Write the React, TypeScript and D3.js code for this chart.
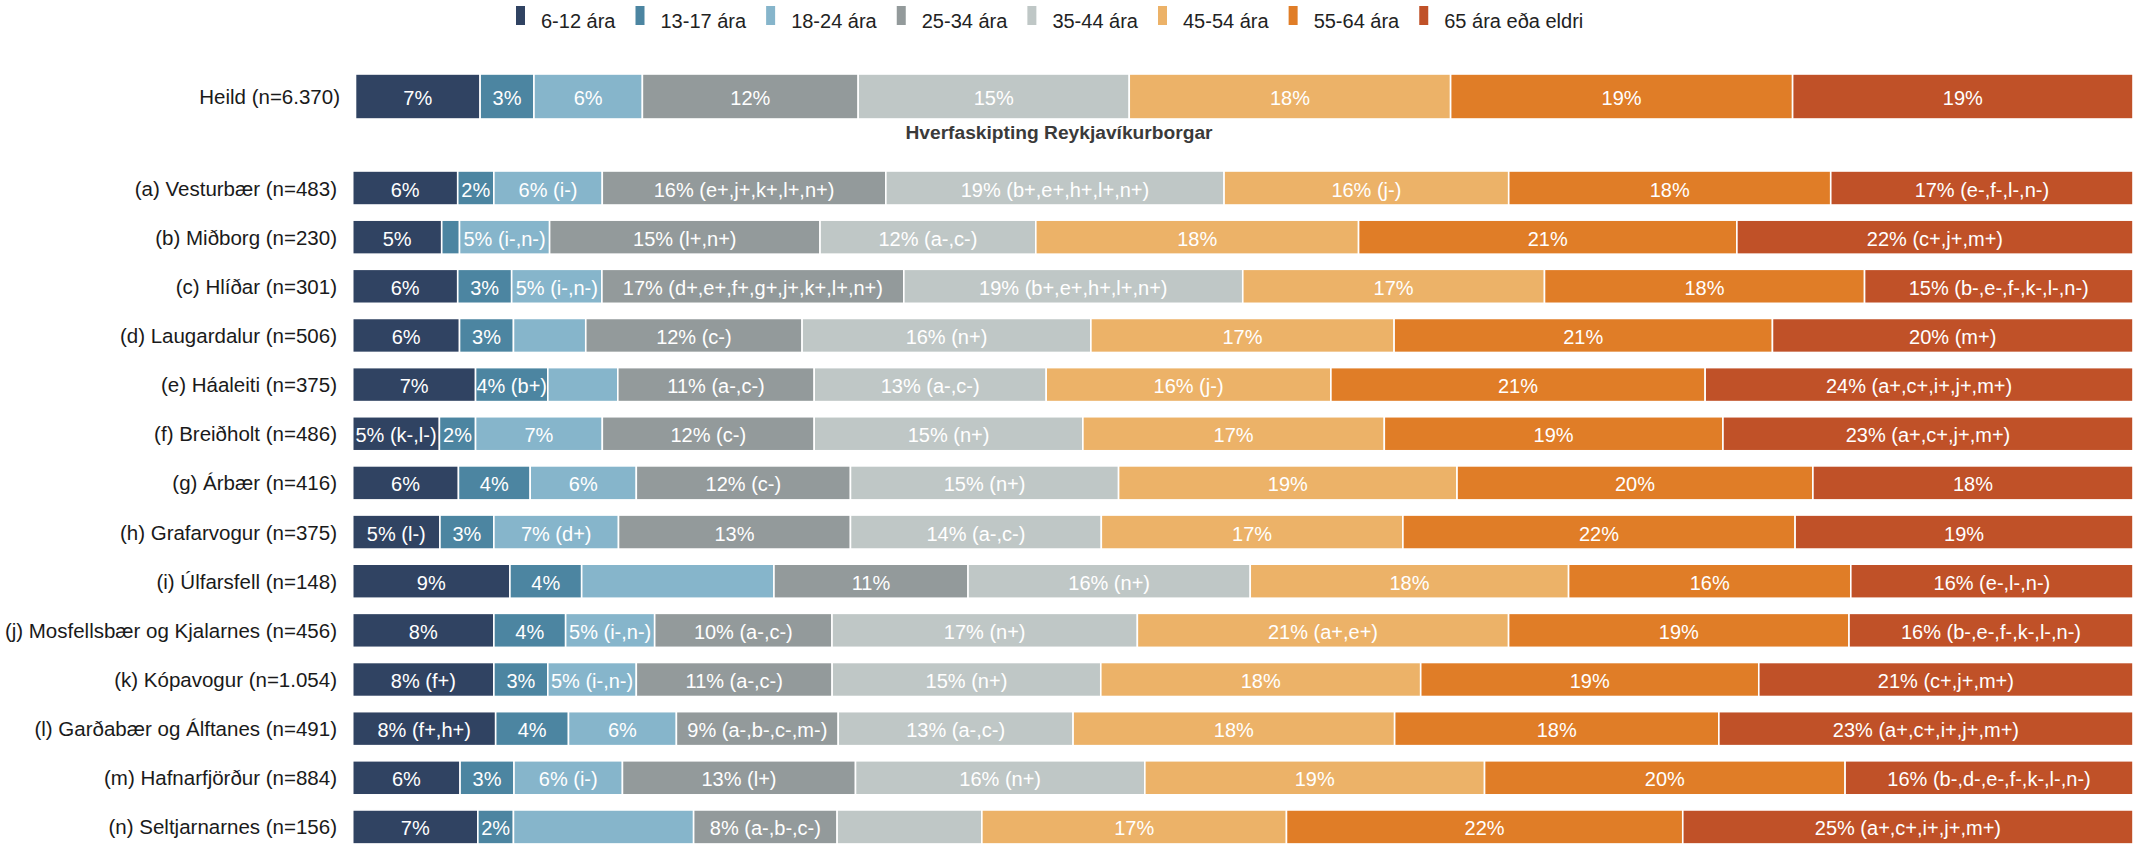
import React, { useEffect, useRef } from 'react';
import * as d3 from 'd3';

const W = 2133;
const H = 844;

const seriesNames = ['6-12 ára', '13-17 ára', '18-24 ára', '25-34 ára', '35-44 ára', '45-54 ára', '55-64 ára', '65 ára eða eldri'];
const colors = ['#304362', '#4c85a1', '#86b5cb', '#939a9b', '#bfc7c6', '#ecb268', '#e07d27', '#c05128'];

const totalLabel = 'Heild (n=6.370)';
const categories = [
  '(a) Vesturbær (n=483)',
  '(b) Miðborg (n=230)',
  '(c) Hlíðar (n=301)',
  '(d) Laugardalur (n=506)',
  '(e) Háaleiti (n=375)',
  '(f) Breiðholt (n=486)',
  '(g) Árbær (n=416)',
  '(h) Grafarvogur (n=375)',
  '(i) Úlfarsfell (n=148)',
  '(j) Mosfellsbær og Kjalarnes (n=456)',
  '(k) Kópavogur (n=1.054)',
  '(l) Garðabær og Álftanes (n=491)',
  '(m) Hafnarfjörður (n=884)',
  '(n) Seltjarnarnes (n=156)',
];
const subtitle = 'Hverfaskipting Reykjavíkurborgar';

// values: first entry = Heild, then rows a..n
const s6_12 = [7.01, 5.90, 5.00, 5.90, 6.00, 6.90, 4.87, 5.94, 4.90, 8.83, 7.93, 7.93, 8.03, 6.03, 7.03];
const s13_17 = [3.03, 2.03, 1.00, 3.03, 3.03, 4.06, 2.03, 4.03, 3.03, 4.03, 4.03, 3.03, 4.09, 3.03, 2.00];
const s18_24 = [6.10, 6.09, 5.06, 5.07, 4.06, 3.93, 7.12, 5.96, 7.00, 10.80, 5.00, 4.97, 6.06, 6.09, 10.12];
const s25_34 = [12.14, 15.93, 15.19, 16.96, 12.15, 11.03, 11.90, 12.03, 13.03, 10.90, 9.96, 11.00, 9.09, 13.09, 8.06];
const s35_44 = [15.25, 19.00, 12.12, 19.04, 16.22, 13.03, 15.09, 15.06, 14.09, 15.85, 17.15, 15.09, 13.19, 16.25, 8.13];
const s45_54 = [18.08, 15.99, 18.13, 16.95, 17.03, 15.99, 16.93, 19.01, 16.94, 17.88, 20.85, 17.97, 18.06, 19.08, 17.11];
const s55_64 = [19.24, 18.09, 21.25, 17.98, 21.25, 21.02, 19.02, 19.99, 22.03, 15.85, 19.12, 18.99, 18.21, 20.25, 22.26];
const s65 = [19.15, 16.98, 22.25, 15.08, 20.25, 24.03, 23.03, 17.98, 18.98, 15.85, 15.95, 21.02, 23.26, 16.17, 25.29];

const l6_12 = ['7%', '6%', '5%', '6%', '6%', '7%', '5% (k-,l-)', '6%', '5% (l-)', '9%', '8%', '8% (f+)', '8% (f+,h+)', '6%', '7%'];
const l13_17 = ['3%', '2%', '', '3%', '3%', '4% (b+)', '2%', '4%', '3%', '4%', '4%', '3%', '4%', '3%', '2%'];
const l18_24 = ['6%', '6% (i-)', '5% (i-,n-)', '5% (i-,n-)', '', '', '7%', '6%', '7% (d+)', '', '5% (i-,n-)', '5% (i-,n-)', '6%', '6% (i-)', ''];
const l25_34 = ['12%', '16% (e+,j+,k+,l+,n+)', '15% (l+,n+)', '17% (d+,e+,f+,g+,j+,k+,l+,n+)', '12% (c-)', '11% (a-,c-)', '12% (c-)', '12% (c-)', '13%', '11%', '10% (a-,c-)', '11% (a-,c-)', '9% (a-,b-,c-,m-)', '13% (l+)', '8% (a-,b-,c-)'];
const l35_44 = ['15%', '19% (b+,e+,h+,l+,n+)', '12% (a-,c-)', '19% (b+,e+,h+,l+,n+)', '16% (n+)', '13% (a-,c-)', '15% (n+)', '15% (n+)', '14% (a-,c-)', '16% (n+)', '17% (n+)', '15% (n+)', '13% (a-,c-)', '16% (n+)', ''];
const l45_54 = ['18%', '16% (j-)', '18%', '17%', '17%', '16% (j-)', '17%', '19%', '17%', '18%', '21% (a+,e+)', '18%', '18%', '19%', '17%'];
const l55_64 = ['19%', '18%', '21%', '18%', '21%', '21%', '19%', '20%', '22%', '16%', '19%', '19%', '18%', '20%', '22%'];
const l65 = ['19%', '17% (e-,f-,l-,n-)', '22% (c+,j+,m+)', '15% (b-,e-,f-,k-,l-,n-)', '20% (m+)', '24% (a+,c+,i+,j+,m+)', '23% (a+,c+,j+,m+)', '18%', '19%', '16% (e-,l-,n-)', '16% (b-,e-,f-,k-,l-,n-)', '21% (c+,j+,m+)', '23% (a+,c+,i+,j+,m+)', '16% (b-,d-,e-,f-,k-,l-,n-)', '25% (a+,c+,i+,j+,m+)'];

const FONT = "'Liberation Sans', Arial, sans-serif";

export default function App() {
  const ref = useRef<SVGSVGElement>(null);

  useEffect(() => {
    const svg = d3.select(ref.current);
    svg.selectAll('*').remove();

    const series = [s6_12, s13_17, s18_24, s25_34, s35_44, s45_54, s55_64, s65];
    const labels = [l6_12, l13_17, l18_24, l25_34, l35_44, l45_54, l55_64, l65];

    // legend
    const lg = svg.append('g');
    let lx = 516;
    seriesNames.forEach((name, i) => {
      lg.append('rect').attr('x', lx).attr('y', 6).attr('width', 9).attr('height', 19).attr('fill', colors[i]);
      const t = lg.append('text')
        .attr('x', lx + 25).attr('y', 28)
        .attr('font-family', FONT).attr('font-size', 20).attr('fill', '#222')
        .text(name);
      const w = (t.node() as SVGTextElement).getComputedTextLength();
      lx += 25 + w + 20;
    });

    const rowsAll = [totalLabel, ...categories];
    const stackData = rowsAll.map((name, r) => {
      const vals = series.map((s) => s[r]);
      const sum = d3.sum(vals);
      const obj: any = { name, r };
      seriesNames.forEach((sn, i) => { obj[sn] = (vals[i] / sum) * 100; });
      return obj;
    });
    const stacked = d3.stack<any>().keys(seriesNames)(stackData);

    const xTotal = d3.scaleLinear().domain([0, 100]).range([355.5, W]);
    const xRows = d3.scaleLinear().domain([0, 100]).range([352.7, W]);

    const yRows = d3.scaleBand<string>()
      .domain(categories)
      .range([171, 171 + 49.15 * (14 - 0.308)])
      .paddingInner(0.308)
      .paddingOuter(0);

    const yPos = (r: number) => (r === 0 ? 74 : (yRows(categories[r - 1]) as number));
    const hPos = (r: number) => (r === 0 ? 45 : yRows.bandwidth());
    const xs = (r: number) => (r === 0 ? xTotal : xRows);

    // bars
    stacked.forEach((layer, i) => {
      const g = svg.append('g');
      layer.forEach((d: any) => {
        const r = d.data.r;
        const x = xs(r);
        const x0 = x(d[0]);
        const x1 = x(d[1]);
        g.append('rect')
          .attr('x', x0).attr('y', yPos(r))
          .attr('width', Math.max(0, x1 - x0)).attr('height', hPos(r))
          .attr('fill', colors[i])
          .attr('stroke', '#fff').attr('stroke-width', 1.6);
        const lab = labels[i][r];
        if (lab) {
          g.append('text')
            .attr('x', (x0 + x1) / 2)
            .attr('y', yPos(r) + hPos(r) / 2 + 8.5)
            .attr('text-anchor', 'middle')
            .attr('font-family', FONT).attr('font-size', 20)
            .attr('fill', '#fff')
            .text(lab);
        }
      });
    });

    // category labels
    svg.append('text')
      .attr('x', 340).attr('y', yPos(0) + hPos(0) / 2 + 7.5)
      .attr('text-anchor', 'end')
      .attr('font-family', FONT).attr('font-size', 20.5).attr('fill', '#1a1a1a')
      .text(totalLabel);
    categories.forEach((c) => {
      svg.append('text')
        .attr('x', 337).attr('y', (yRows(c) as number) + yRows.bandwidth() / 2 + 7.5)
        .attr('text-anchor', 'end')
        .attr('font-family', FONT).attr('font-size', 20.5).attr('fill', '#1a1a1a')
        .text(c);
    });

    svg.append('text')
      .attr('x', 1059).attr('y', 138.5)
      .attr('text-anchor', 'middle')
      .attr('font-family', FONT).attr('font-weight', 'bold').attr('font-size', 19.2).attr('fill', '#3a3a3a')
      .text(subtitle);
  }, []);

  return (
    <svg ref={ref} width={W} height={H} style={{ position: 'absolute', left: 0, top: 0, display: 'block', background: '#fff' }} />
  );
}
